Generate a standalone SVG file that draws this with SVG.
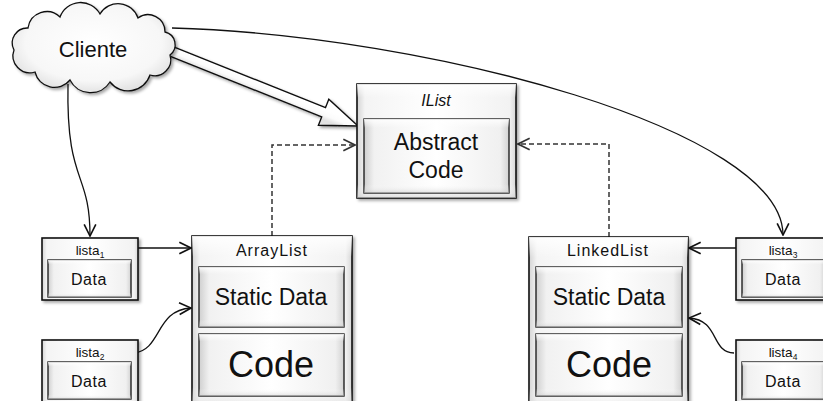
<svg xmlns="http://www.w3.org/2000/svg" width="823" height="401" viewBox="0 0 823 401">
  <style>
    .box { stroke: #111; stroke-width: 1.6; fill: url(#bevelOuter); filter: url(#shadow); }
    .inner { stroke: #222; stroke-width: 1.4; fill: url(#bevelInner); }
    .ovl { fill: url(#topGlow); stroke: none; }
    .t { font-family: "Liberation Sans", Arial, sans-serif; fill: #111; text-anchor: middle; }
    .conn { fill: none; stroke: #111; stroke-width: 1.3; }
    .dash { fill: none; stroke: #333; stroke-width: 1.5; stroke-dasharray: 5 3; }
  </style>
  <defs>
    <filter id="shadow" x="-10%" y="-10%" width="130%" height="130%">
      <feDropShadow dx="2" dy="2" stdDeviation="1.5" flood-color="#000" flood-opacity="0.35"/>
    </filter>
    <linearGradient id="bevelOuter" x1="0" y1="0" x2="1" y2="0">
      <stop offset="0" stop-color="#d4d4d4"/>
      <stop offset="0.05" stop-color="#f4f4f4"/>
      <stop offset="0.5" stop-color="#ffffff"/>
      <stop offset="0.96" stop-color="#f2f2f2"/>
      <stop offset="1" stop-color="#d6d6d6"/>
    </linearGradient>
    <linearGradient id="bevelInner" x1="0" y1="0" x2="1" y2="0">
      <stop offset="0" stop-color="#cfcfcf"/>
      <stop offset="0.07" stop-color="#f1f1f1"/>
      <stop offset="0.5" stop-color="#ffffff"/>
      <stop offset="0.94" stop-color="#f0f0f0"/>
      <stop offset="1" stop-color="#d2d2d2"/>
    </linearGradient>
    <linearGradient id="topGlow" x1="0" y1="0" x2="0" y2="1">
      <stop offset="0" stop-color="#ffffff" stop-opacity="0.9"/>
      <stop offset="0.12" stop-color="#ffffff" stop-opacity="0"/>
      <stop offset="0.88" stop-color="#ffffff" stop-opacity="0"/>
      <stop offset="1" stop-color="#cfcfcf" stop-opacity="0.6"/>
    </linearGradient>
    <radialGradient id="cloudFill" cx="0.5" cy="0.45" r="0.6">
      <stop offset="0" stop-color="#ffffff"/>
      <stop offset="0.7" stop-color="#f7f7f7"/>
      <stop offset="1" stop-color="#dcdcdc"/>
    </radialGradient>
    <!-- shading across the width of the block arrow, parallel to its axis -->
    <linearGradient id="arrowFill" gradientUnits="userSpaceOnUse" x1="169.9" y1="45.4" x2="166.1" y2="54.6">
      <stop offset="0" stop-color="#ffffff"/>
      <stop offset="0.55" stop-color="#fbfbfb"/>
      <stop offset="1" stop-color="#e2e2e2"/>
    </linearGradient>
    <marker id="open" markerUnits="userSpaceOnUse" markerWidth="14" markerHeight="14" refX="10" refY="5" orient="auto" viewBox="-1 -1 12 12">
      <path d="M0,0 L10,5 L0,10" fill="none" stroke="#111" stroke-width="1.4"/>
    </marker>
    <marker id="openGray" markerUnits="userSpaceOnUse" markerWidth="14" markerHeight="14" refX="10" refY="5" orient="auto" viewBox="-1 -1 12 12">
      <path d="M0,0 L10,5 L0,10" fill="none" stroke="#333" stroke-width="1.4"/>
    </marker>
  </defs>

  <rect width="823" height="401" fill="#ffffff"/>

  <!-- connectors -->
  <g id="connectors">
    <path class="conn" d="M68,84 C66,185 90,170 90,236" marker-end="url(#open)"/>
    <path class="conn" d="M172,28 C430,35 783,130 783,235" marker-end="url(#open)"/>
    <path class="conn" d="M134,248 L191,248" marker-end="url(#open)"/>
    <path class="conn" d="M134,353 C162,350 155,310 191,308" marker-end="url(#open)"/>
    <path class="conn" d="M741,248 L689,248" marker-end="url(#open)"/>
    <path class="conn" d="M734,353 C710,352 720,320 689,318" marker-end="url(#open)"/>
    <path class="dash" d="M272,236 L272,145 L355,145" marker-end="url(#openGray)"/>
    <path class="dash" d="M609,237 L609,144 L518,144" marker-end="url(#openGray)"/>
    <!-- wide block arrow from the client to the interface -->
    <polygon points="169.9,45.4 325.5,107.7 328.8,99.3 358,126 318.4,125.3 321.7,116.9 166.1,54.6"
             fill="url(#arrowFill)" stroke="#111" stroke-width="1.4" stroke-linejoin="miter" filter="url(#shadow)"/>
  </g>

  <!-- client cloud -->
  <g id="cliente">
    <path d="M14,50 A15,15 0 0 1 28,28 A19,19 0 0 1 60,17 A22,22 0 0 1 100,14 A21,21 0 0 1 138,18 A17,17 0 0 1 165,32 A13,13 0 0 1 170,55 A16,16 0 0 1 150,75 A23,23 0 0 1 110,82 A23,23 0 0 1 70,80 A20,20 0 0 1 35,72 A17,17 0 0 1 14,50 Z"
          fill="url(#cloudFill)" stroke="#111" stroke-width="1.3" filter="url(#shadow)"/>
    <text class="t" x="93" y="57" font-size="22">Cliente</text>
  </g>

  <!-- interface -->
  <g id="ilist">
    <rect class="box" x="357" y="84" width="159" height="114"/>
    <rect class="ovl" x="357" y="84" width="159" height="114"/>
    <text class="t" x="436" y="106" font-size="16" font-style="italic">IList</text>
    <rect class="inner" x="364" y="119" width="145" height="74"/>
    <rect class="ovl" x="364" y="119" width="145" height="74"/>
    <text class="t" x="436" y="150" font-size="23">Abstract</text>
    <text class="t" x="436" y="178" font-size="23">Code</text>
  </g>

  <!-- ArrayList class -->
  <g id="arraylist">
    <rect class="box" x="192" y="236" width="160" height="172"/>
    <rect class="ovl" x="192" y="236" width="160" height="172"/>
    <text class="t" x="272" y="256" font-size="16" letter-spacing="1">ArrayList</text>
    <rect class="inner" x="199" y="267" width="145" height="60"/>
    <rect class="ovl" x="199" y="267" width="145" height="60"/>
    <text class="t" x="271" y="305" font-size="23">Static Data</text>
    <rect class="inner" x="199" y="334" width="145" height="62"/>
    <rect class="ovl" x="199" y="334" width="145" height="62"/>
    <text class="t" x="271" y="377" font-size="36">Code</text>
  </g>

  <!-- LinkedList class -->
  <g id="linkedlist">
    <rect class="box" x="529" y="237" width="159" height="172"/>
    <rect class="ovl" x="529" y="237" width="159" height="172"/>
    <text class="t" x="608" y="256" font-size="16" letter-spacing="1">LinkedList</text>
    <rect class="inner" x="536" y="267" width="146" height="60"/>
    <rect class="ovl" x="536" y="267" width="146" height="60"/>
    <text class="t" x="609" y="305" font-size="23">Static Data</text>
    <rect class="inner" x="536" y="334" width="146" height="62"/>
    <rect class="ovl" x="536" y="334" width="146" height="62"/>
    <text class="t" x="609" y="377" font-size="36">Code</text>
  </g>

  <!-- list instances -->
  <g id="lista1">
    <rect class="box" x="42" y="238" width="96" height="62"/>
    <rect class="inner" x="48" y="260" width="83" height="37"/>
    <rect class="ovl" x="48" y="260" width="83" height="37"/>
    <text class="t" x="90" y="255" font-size="13.5">lista<tspan font-size="8.5" dy="3">1</tspan></text>
    <text class="t" x="89" y="285" font-size="16" letter-spacing="0.6">Data</text>
  </g>
  <g id="lista2">
    <rect class="box" x="42" y="340" width="96" height="62"/>
    <rect class="inner" x="48" y="362" width="83" height="37"/>
    <rect class="ovl" x="48" y="362" width="83" height="37"/>
    <text class="t" x="90" y="357" font-size="13.5">lista<tspan font-size="8.5" dy="3">2</tspan></text>
    <text class="t" x="89" y="387" font-size="16" letter-spacing="0.6">Data</text>
  </g>
  <g id="lista3">
    <rect class="box" x="736" y="238" width="96" height="62"/>
    <rect class="inner" x="742" y="260" width="83" height="37"/>
    <rect class="ovl" x="742" y="260" width="83" height="37"/>
    <text class="t" x="783" y="255" font-size="13.5">lista<tspan font-size="8.5" dy="3">3</tspan></text>
    <text class="t" x="783" y="285" font-size="16" letter-spacing="0.6">Data</text>
  </g>
  <g id="lista4">
    <rect class="box" x="736" y="340" width="96" height="62"/>
    <rect class="inner" x="742" y="362" width="83" height="37"/>
    <rect class="ovl" x="742" y="362" width="83" height="37"/>
    <text class="t" x="783" y="357" font-size="13.5">lista<tspan font-size="8.5" dy="3">4</tspan></text>
    <text class="t" x="783" y="387" font-size="16" letter-spacing="0.6">Data</text>
  </g>
</svg>
